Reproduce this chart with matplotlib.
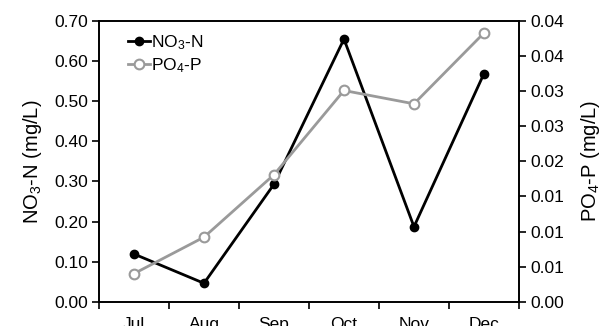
import matplotlib
matplotlib.use("Agg")
import matplotlib.pyplot as plt
from matplotlib.ticker import FixedLocator, FormatStrFormatter, NullFormatter

plt.rcParams['font.family'] = ['Liberation Sans', 'DejaVu Sans']
plt.rcParams['mathtext.fontset'] = 'custom'
plt.rcParams['mathtext.rm'] = 'Liberation Sans'
plt.rcParams['mathtext.it'] = 'Liberation Sans'

months = ["Jul", "Aug", "Sep", "Oct", "Nov", "Dec"]
no3_n = [0.119, 0.046, 0.293, 0.655, 0.187, 0.569]
po4_p = [0.0040, 0.0092, 0.0181, 0.0301, 0.0282, 0.0383]

fig = plt.figure(figsize=(6.11, 3.26), dpi=100)
ax = fig.add_axes([0.162, 0.0745, 0.6874, 0.861])
ax2 = ax.twinx()

x = list(range(len(months)))
l1, = ax.plot(x, no3_n, color='black', lw=2, marker='o', ms=6,
              mfc='black', mec='black', label='NO$_3$-N', zorder=3)
l2, = ax2.plot(x, po4_p, color='#9a9a9a', lw=2, marker='o', ms=7,
               mfc='white', mec='#9a9a9a', mew=1.5, label='PO$_4$-P')

ax.set_xlim(-0.5, len(months) - 0.5)
ax.set_ylim(0, 0.70)
ax2.set_ylim(0, 0.04)

ax.set_yticks([i * 0.1 for i in range(8)])
ax.yaxis.set_major_formatter(FormatStrFormatter('%.2f'))
ax2.set_yticks([i * 0.005 for i in range(9)])
ax2.yaxis.set_major_formatter(FormatStrFormatter('%.2f'))

ax.set_xticks(x)
ax.set_xticklabels(months)
ax.xaxis.set_minor_locator(FixedLocator([i - 0.5 for i in range(len(months) + 1)]))
ax.xaxis.set_minor_formatter(NullFormatter())
ax.tick_params(axis='x', which='major', length=0, pad=11, labelsize=12.5)
ax.tick_params(axis='x', which='minor', length=5, width=1.2, direction='out')
ax.tick_params(axis='y', length=5, width=1.2, direction='out', labelsize=12.5, pad=3)
ax2.tick_params(axis='y', length=5, width=1.2, direction='out', labelsize=12.5, pad=3)

for a in (ax, ax2):
    for s in a.spines.values():
        s.set_linewidth(1.2)

ax.set_ylabel('NO$_3$-N (mg/L)', fontsize=14.5, labelpad=7)
ax2.set_ylabel('PO$_4$-P (mg/L)', fontsize=14.5, labelpad=11)

ax.legend(handles=[l1, l2], loc='upper left', bbox_to_anchor=(0.045, 0.995),
          frameon=False, fontsize=12.5, handlelength=1.25, handletextpad=0.05,
          borderaxespad=0.2, labelspacing=0.25)

fig.savefig('out.png', dpi=100)
